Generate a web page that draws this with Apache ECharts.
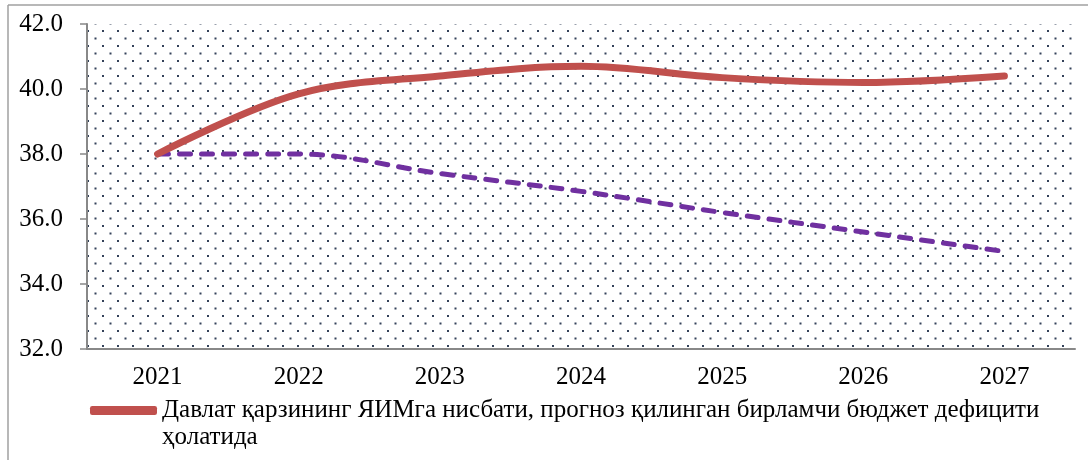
<!DOCTYPE html>
<html>
<head>
<meta charset="utf-8">
<script src="https://cdn.jsdelivr.net/npm/echarts@6/dist/echarts.min.js"></script>
<style>
html,body{margin:0;padding:0;background:#fff;}
#chart{width:1088px;height:460px;}
</style>
</head>
<body>
<div id="chart"></div>
<script>
const years = ['2021', '2022', '2023', '2024', '2025', '2026', '2027'];
const debtPrimaryDeficit = [38.0, 39.85, 40.4, 40.7, 40.35, 40.2, 40.4];
const debtOther = [38.0, 38.0, 37.4, 36.85, 36.2, 35.6, 35.0];
const seriesNames = [
  'Давлат қарзининг ЯИМга нисбати, прогноз қилинган бирламчи бюджет дефицити ҳолатида',
  'Давлат қарзининг ЯИМга нисбати, бирламчи бюджет профицити ҳолатида'
];
const yTicks = { min: 32, max: 42, interval: 2 };

// dotted background tile
const tile = document.createElement('canvas');
tile.width = 15; tile.height = 15;
const tctx = tile.getContext('2d');
tctx.fillStyle = '#34425a';
tctx.fillRect(12, 0, 2, 2);
tctx.fillRect(4.5, 7.5, 2, 2);

const serif = '"Liberation Serif", "DejaVu Serif", serif';
const chart = echarts.init(document.getElementById('chart'), null, { renderer: 'canvas' });
chart.setOption({
  animation: false,
  backgroundColor: '#ffffff',
  grid: {
    left: 87, right: 13, top: 24, bottom: 111,
    show: true,
    backgroundColor: { image: tile, repeat: 'repeat' },
    borderWidth: 0
  },
  xAxis: {
    type: 'category',
    data: years,
    boundaryGap: true,
    axisLine: { lineStyle: { color: '#888888', width: 2 } },
    axisTick: { show: false },
    axisLabel: { color: '#000', fontFamily: serif, fontSize: 25, margin: 16 },
    splitLine: { show: false }
  },
  yAxis: {
    type: 'value',
    min: yTicks.min, max: yTicks.max, interval: yTicks.interval,
    axisLine: { show: true, lineStyle: { color: '#888888', width: 2 } },
    axisTick: { show: true, length: 7, lineStyle: { color: '#888888', width: 1.5 } },
    axisLabel: { color: '#000', fontFamily: serif, fontSize: 25, margin: 24,
      formatter: v => v.toFixed(1) },
    splitLine: { show: false }
  },
  legend: {
    data: [seriesNames[0]],
    left: 90, top: 370, padding: 0,
    icon: 'roundRect',
    itemWidth: 67, itemHeight: 9,
    textStyle: { color: '#000', fontFamily: serif, fontSize: 25, lineHeight: 27 },
    formatter: name => ' \n' + name.replace(' ҳолатида', '\nҳолатида')
  },
  graphic: [
    { type: 'line', shape: { x1: 8, y1: 5, x2: 1088, y2: 5 }, style: { stroke: '#a0a0a0', lineWidth: 1.5 } },
    { type: 'line', shape: { x1: 8, y1: 5, x2: 8, y2: 460 }, style: { stroke: '#a0a0a0', lineWidth: 1.5 } }
  ],
  series: [
    {
      name: seriesNames[0],
      type: 'line',
      data: debtPrimaryDeficit,
      smooth: 0.35,
      showSymbol: false,
      symbol: 'none',
      color: '#C0504D',
      lineStyle: { color: '#C0504D', width: 7, cap: 'round', join: 'round' },
      z: 3
    },
    {
      name: seriesNames[1],
      type: 'line',
      data: debtOther,
      smooth: 0.35,
      showSymbol: false,
      symbol: 'none',
      color: '#7030A0',
      lineStyle: { color: '#7030A0', width: 5, type: [11, 11], cap: 'round' },
      z: 2
    }
  ]
});
</script>
</body>
</html>
